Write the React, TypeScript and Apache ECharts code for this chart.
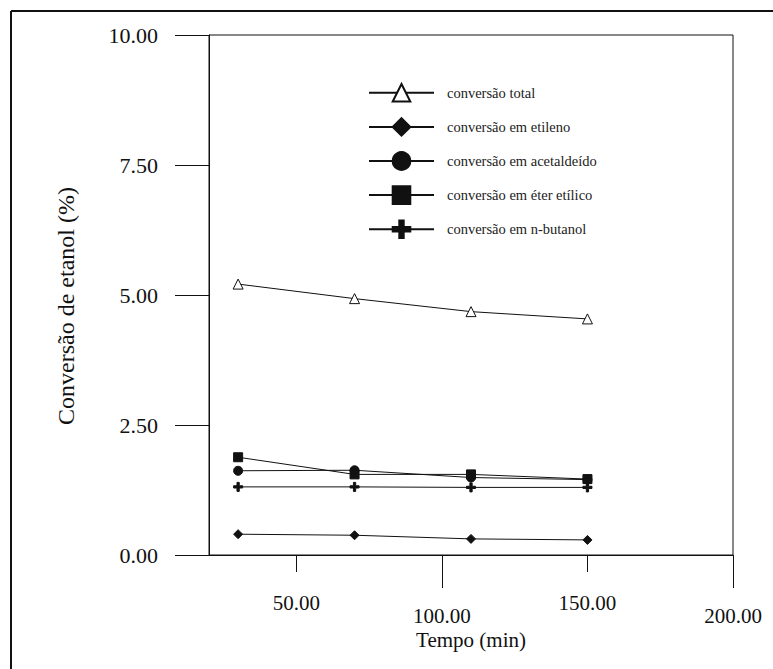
import React, { useEffect, useRef } from "react";
import * as echarts from "echarts";

const times = [30, 70, 110, 150];
const totalConv = [5.21, 4.93, 4.68, 4.54];
const etilenoConv = [0.4, 0.38, 0.31, 0.29];
const acetaldeidoConv = [1.62, 1.63, 1.49, 1.45];
const eterConv = [1.88, 1.55, 1.55, 1.46];
const butanolConv = [1.31, 1.31, 1.3, 1.3];

const xShortTicks = [50, 150];
const xLongTicks = [100, 200];
const xLabels = [50, 100, 150, 200];

const seriesNames = [
  "conversão total",
  "conversão em etileno",
  "conversão em acetaldeído",
  "conversão em éter etílico",
  "conversão em n-butanol",
];

const FONT = "Liberation Serif";
const PLUS = "path://M3,0H5V3H8V5H5V8H3V5H0V3H3Z";

function pairs(vals: number[]) {
  return times.map((t, i) => [t, vals[i]]);
}

export default function App() {
  const ref = useRef<HTMLDivElement>(null);
  useEffect(() => {
    if (!ref.current) return;
    const chart = echarts.init(ref.current, null, { renderer: "svg" });
    const lineStyle = { color: "#111", width: 1 };
    const mk = (name: string, data: number[], symbol: string, size: number, fill: string) => ({
      name,
      type: "line",
      data: pairs(data),
      symbol,
      symbolSize: size,
      lineStyle,
      itemStyle: { color: fill, borderColor: "#111", borderWidth: 1 },
      emphasis: { disabled: true },
    });
    chart.setOption({
      animation: false,
      backgroundColor: "#fff",
      textStyle: { fontFamily: FONT },
      grid: {
        left: 209,
        right: 40,
        top: 35,
        bottom: 114,
        show: true,
        borderColor: "#111",
        borderWidth: 1,
        backgroundColor: "transparent",
      },
      legend: {
        orient: "vertical",
        left: 363,
        top: 78,
        itemWidth: 65,
        itemHeight: 22,
        itemGap: 14.5,
        data: seriesNames,
        textStyle: { fontFamily: FONT, fontSize: 14.5, color: "#222", padding: [0, 0, 0, 8] },
        selectedMode: false,
      },
      xAxis: [
        {
          type: "value",
          min: 20,
          max: 200,
          name: "Tempo (min)",
          nameLocation: "middle",
          nameGap: 74,
          nameMoveOverlap: false,
          nameTextStyle: { fontFamily: FONT, fontSize: 21, color: "#111" },
          axisLine: { show: true, lineStyle: { color: "#111", width: 1 } },
          axisTick: { show: true, customValues: xShortTicks, length: 17, lineStyle: { color: "#111" } },
          axisLabel: {
            customValues: xLabels,
            margin: 37,
            fontFamily: FONT,
            fontSize: 21,
            color: "#111",
            formatter: (v: number) =>
              v % 100 === 0 ? "{b|" + v.toFixed(2) + "}" : "{a|" + v.toFixed(2) + "}",
            rich: {
              a: { fontFamily: FONT, fontSize: 21, color: "#111" },
              b: { fontFamily: FONT, fontSize: 21, color: "#111", padding: [13, 0, 0, 0] },
            },
          },
          splitLine: { show: false },
        },
        {
          type: "value",
          min: 20,
          max: 200,
          position: "bottom",
          axisLine: { show: false },
          axisTick: { show: true, customValues: xLongTicks, length: 33, lineStyle: { color: "#111" } },
          axisLabel: { show: false },
          splitLine: { show: false },
        },
      ],
      yAxis: {
        type: "value",
        min: 0,
        max: 10,
        interval: 2.5,
        name: "Conversão de etanol (%)",
        nameLocation: "middle",
        nameGap: 131,
        nameMoveOverlap: false,
        nameTextStyle: { fontFamily: FONT, fontSize: 24, color: "#111", padding: [0, 22, 0, 0] },
        axisLine: { show: true, lineStyle: { color: "#111", width: 1 } },
        axisTick: { show: true, length: 34, lineStyle: { color: "#111" } },
        axisLabel: {
          margin: 51,
          fontFamily: FONT,
          fontSize: 22,
          color: "#111",
          formatter: (v: number) => v.toFixed(2),
        },
        splitLine: { show: false },
      },
      graphic: [
        { type: "line", shape: { x1: 11, y1: 11, x2: 773, y2: 11 }, style: { stroke: "#111", lineWidth: 2 } },
        { type: "line", shape: { x1: 11, y1: 11, x2: 11, y2: 669 }, style: { stroke: "#111", lineWidth: 2 } },
      ],
      series: [
        mk(seriesNames[0], totalConv, "triangle", 10, "#fff"),
        mk(seriesNames[1], etilenoConv, "diamond", 9, "#111"),
        mk(seriesNames[2], acetaldeidoConv, "circle", 9, "#111"),
        mk(seriesNames[3], eterConv, "rect", 9, "#111"),
        mk(seriesNames[4], butanolConv, PLUS, 9, "#111"),
      ],
    });
    return () => chart.dispose();
  }, []);
  return (
    <div
      ref={ref}
      style={{ position: "fixed", left: 0, top: 0, width: 773, height: 669 }}
    />
  );
}
